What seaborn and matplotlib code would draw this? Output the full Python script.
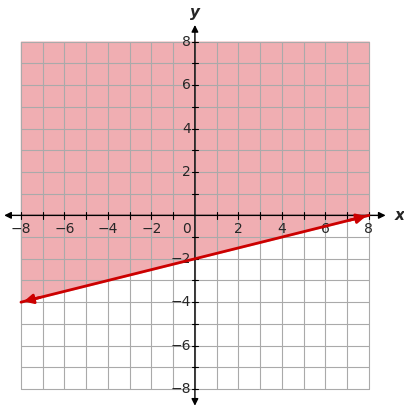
import matplotlib
matplotlib.use("Agg")
import matplotlib.pyplot as plt
import numpy as np
import pandas as pd
import seaborn as sns

# linje y = x/4 - 2, skuggat ovanför
linje_x = [-8, 8]
linje_y = [-4, 0]
ticks = [-8, -6, -4, -2, 2, 4, 6, 8]

sns.set_style("white")
fig = plt.figure(figsize=(4.04, 4.11), dpi=100)
ax = fig.add_axes([1.4 / 404, 0.006, 0.958, 0.94])
ax.set_xlim(-8.9, 8.9)
ax.set_ylim(-8.9, 8.9)
ax.axis("off")

# skuggning
ax.fill_between(linje_x, linje_y, 8, color="#f0aeb2", zorder=0)

# rutnät
for v in range(-8, 9):
    ax.plot([v, v], [-8, 8], color="#aaaaaa", lw=0.8, zorder=1)
    ax.plot([-8, 8], [v, v], color="#aaaaaa", lw=0.8, zorder=1)

# axlar med pilar
ax.annotate("", xy=(8.9, 0), xytext=(-8.9, 0),
            arrowprops=dict(arrowstyle="<|-|>", color="black", lw=1, mutation_scale=10), zorder=3)
ax.annotate("", xy=(0, 8.9), xytext=(0, -8.9),
            arrowprops=dict(arrowstyle="<|-|>", color="black", lw=1, mutation_scale=10), zorder=3)
for v in range(-8, 9):
    if v != 0:
        ax.plot([v, v], [-0.15, 0.15], color="black", lw=0.8, zorder=3)
        ax.plot([-0.15, 0.15], [v, v], color="black", lw=0.8, zorder=3)

for t in ticks:
    ax.text(t, -0.3, "−" + str(-t) if t < 0 else str(t), ha="center", va="top", fontsize=10, zorder=4)
    ax.text(-0.2, t, "−" + str(-t) if t < 0 else str(t), ha="right", va="center", fontsize=10, zorder=4)
ax.text(-0.2, -0.3, "0", ha="right", va="top", fontsize=10)
ax.text(9.2, 0, "x", fontsize=11, style="italic", fontweight="bold", va="center", clip_on=False)
ax.text(0, 9.0, "y", fontsize=11, style="italic", fontweight="bold", ha="center", va="bottom", clip_on=False)

# linjen
df = pd.DataFrame({"x": linje_x, "y": linje_y})
sns.lineplot(data=df, x="x", y="y", color="#cc0000", lw=2, ax=ax, zorder=5)
ax.annotate("", xy=(linje_x[0], linje_y[0]), xytext=(linje_x[0] + 1, linje_y[0] + 0.25),
            arrowprops=dict(arrowstyle="-|>", color="#cc0000", lw=2, mutation_scale=14), zorder=6)
ax.annotate("", xy=(linje_x[1], linje_y[1]), xytext=(linje_x[1] - 1, linje_y[1] - 0.25),
            arrowprops=dict(arrowstyle="-|>", color="#cc0000", lw=2, mutation_scale=14), zorder=6)
ax.set_xlim(-8.9, 8.9)
ax.set_ylim(-8.9, 8.9)

fig.savefig("out.png", dpi=100)
